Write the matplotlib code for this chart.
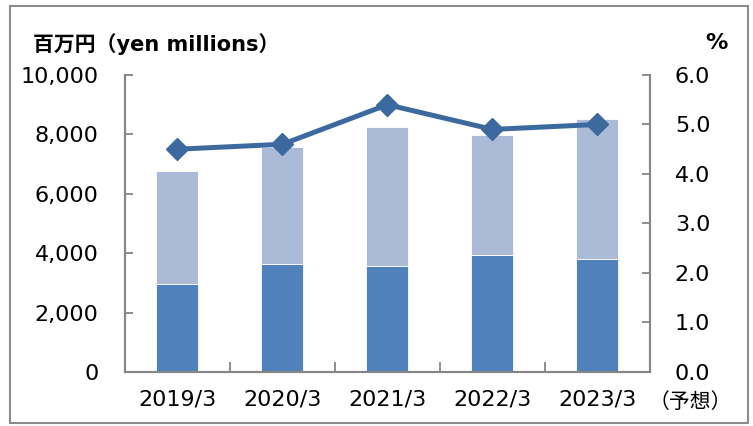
import matplotlib.pyplot as plt
from matplotlib.patches import Rectangle

plt.rcParams['font.family'] = ['DejaVu Sans', 'Noto Sans CJK JP']

years = ['2019/3', '2020/3', '2021/3', '2022/3', '2023/3']
lower = [2970, 3650, 3580, 3940, 3800]
upper = [3780, 3910, 4660, 4040, 4720]
rate = [4.5, 4.6, 5.4, 4.9, 5.0]

dark = '#4F81BD'
light = '#AABAD7'
line_c = '#3D6A9E'
axis_c = '#868686'

fig = plt.figure(figsize=(7.53, 4.26), dpi=100)
ax = fig.add_axes([0.166, 0.127, 0.697, 0.697])
ax2 = ax.twinx()

x = range(len(years))
ax.bar(x, lower, width=0.4, color=dark, edgecolor='white', linewidth=0.6, zorder=2)
ax.bar(x, upper, width=0.4, bottom=lower, color=light, edgecolor='white', linewidth=0.6, zorder=2)
ax2.plot(x, rate, color=line_c, lw=3.6, marker='D', markersize=11, zorder=3)

ax.set_xlim(-0.5, len(years) - 0.5)
ax.set_ylim(0, 10000)
ax.set_yticks(range(0, 10001, 2000))
ax.set_yticklabels([f'{v:,}' for v in range(0, 10001, 2000)])
ax2.set_ylim(0, 6)
ax2.set_yticks([i * 1.0 for i in range(7)])
ax2.set_yticklabels([f'{i:.1f}' for i in range(7)])

ax.set_xticks(x)
ax.set_xticklabels(years)
ax.set_xticks([i + 0.5 for i in range(-1, len(years))], minor=True)
ax.tick_params(axis='x', which='major', length=0, pad=13, labelsize=16)
ax.tick_params(axis='x', which='minor', direction='in', length=7, width=1.3, color=axis_c)
ax.tick_params(axis='y', direction='in', length=6, width=1.3, color=axis_c, pad=19, labelsize=16)
ax2.tick_params(axis='y', direction='in', length=6, width=1.3, color=axis_c, pad=18, labelsize=16)

for a in (ax, ax2):
    a.spines['top'].set_visible(False)
    for s in ('left', 'right', 'bottom'):
        a.spines[s].set_color(axis_c)
        a.spines[s].set_linewidth(1.5)

fig.text(0.044, 0.897, '百万円（yen millions）', fontsize=15, fontweight='bold', va='center')
fig.text(0.966, 0.9, '%', fontsize=16, fontweight='bold', ha='right', va='center')
fig.text(0.861, 0.056, '（予想）', fontsize=15, family=['Noto Sans CJK JP', 'DejaVu Sans'],
         ha='left', va='center')

fig.patches.append(Rectangle((0.013, 0.007), 0.98, 0.98, transform=fig.transFigure,
                             fill=False, edgecolor='#8C8C8C', linewidth=1.5))

fig.savefig('out.png', dpi=100)
